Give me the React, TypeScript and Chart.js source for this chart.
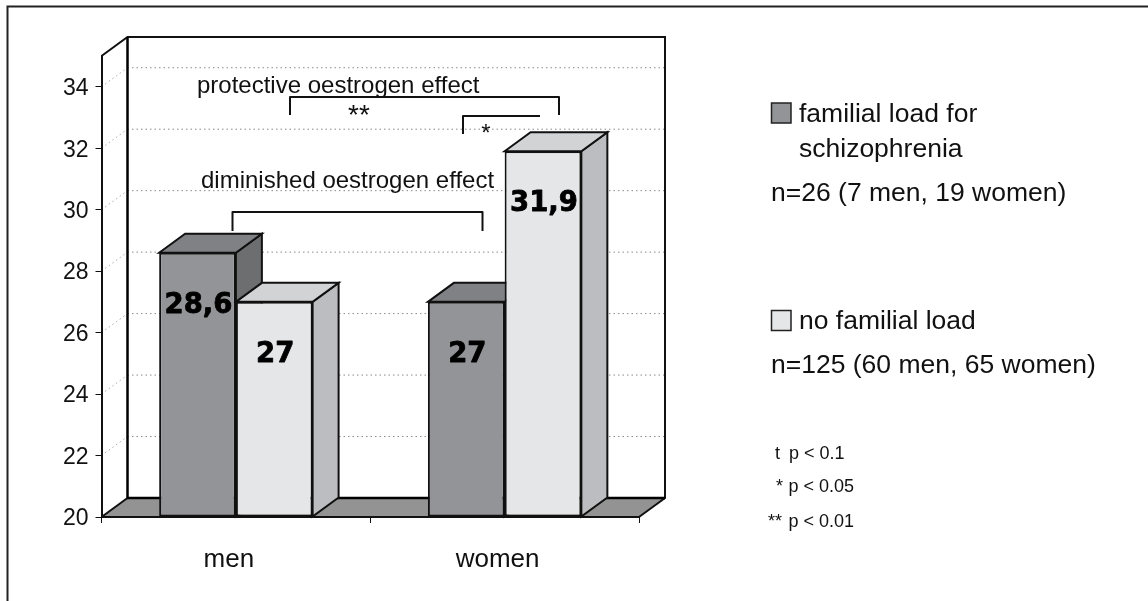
import React, { useEffect, useRef } from "react";
import { Chart, registerables } from "chart.js";

Chart.register(...registerables);

const categories = ["men", "women"];
const familialLoad = [28.6, 27];
const noFamilialLoad = [27, 31.9];
const seriesLabels = ["familial load for schizophrenia", "no familial load"];
const yMin = 20;
const yMax = 35;
const yStep = 2;

const FONT = '"Liberation Sans", Arial, sans-serif';
const DX = 26;
const DY = -19;
const DARK = { front: "#939497", side: "#6d6e70", top: "#808184" };
const LIGHT = { front: "#e5e6e8", side: "#bbbdc0", top: "#d1d3d4" };
const faces = [DARK, LIGHT];

const poly = (ctx: CanvasRenderingContext2D, pts: number[][], fill: string | null, stroke: string | null, lw = 2) => {
  ctx.beginPath();
  pts.forEach((p, i) => (i ? ctx.lineTo(p[0], p[1]) : ctx.moveTo(p[0], p[1])));
  ctx.closePath();
  if (fill) {
    ctx.fillStyle = fill;
    ctx.fill();
  }
  if (stroke) {
    ctx.strokeStyle = stroke;
    ctx.lineWidth = lw;
    ctx.lineJoin = "miter";
    ctx.stroke();
  }
};

const line = (ctx: CanvasRenderingContext2D, pts: number[][], lw = 2, color = "#111") => {
  ctx.beginPath();
  pts.forEach((p, i) => (i ? ctx.lineTo(p[0], p[1]) : ctx.moveTo(p[0], p[1])));
  ctx.strokeStyle = color;
  ctx.lineWidth = lw;
  ctx.stroke();
};

const text = (
  ctx: CanvasRenderingContext2D,
  s: string,
  x: number,
  y: number,
  size: number,
  align: CanvasTextAlign = "left"
) => {
  ctx.font = `${size}px ${FONT}`;
  ctx.fillStyle = "#111";
  ctx.textAlign = align;
  ctx.textBaseline = "alphabetic";
  ctx.fillText(s, x, y);
};

const wallsPlugin = {
  id: "walls",
  beforeDraw(chart: any) {
    const { ctx, chartArea: a, scales } = chart;
    ctx.save();
    // outer frame
    line(ctx, [[7.5, 601], [7.5, 6.5], [1148, 6.5]], 2, "#222");
    // floor
    poly(ctx, [[a.left, a.bottom], [a.left + DX, a.bottom + DY], [a.right + DX, a.bottom + DY], [a.right, a.bottom]], "#939393", null);
    // dotted gridlines
    ctx.setLineDash([1.5, 3]);
    scales.y.ticks.forEach((t: any) => {
      if (t.value === yMin) return;
      const y = scales.y.getPixelForValue(t.value);
      line(ctx, [[a.left + DX, y + DY], [a.right + DX, y + DY]], 1, "#8a8a8a");
      line(ctx, [[a.left, y], [a.left + DX, y + DY]], 1, "#aaaaaa");
    });
    ctx.setLineDash([]);
    // back wall + side wall outline
    line(ctx, [[a.left, a.top], [a.left + DX, a.top + DY], [a.right + DX, a.top + DY], [a.right + DX, a.bottom + DY], [a.right, a.bottom]], 2);
    line(ctx, [[a.left + DX, a.top + DY], [a.left + DX, a.bottom + DY], [a.right + DX, a.bottom + DY]], 2.5, "#000");
    line(ctx, [[a.left, a.bottom], [a.left + DX, a.bottom + DY]], 2);
    ctx.restore();
  },
  beforeDatasetsDraw(chart: any) {
    const { ctx } = chart;
    ctx.save();
    chart.data.datasets.forEach((_: any, di: number) => {
      chart.getDatasetMeta(di).data.forEach((el: any) => {
        const l = el.x - el.width / 2;
        const r = el.x + el.width / 2;
        const t = el.y;
        const b = el.base;
        poly(ctx, [[r, t], [r + DX, t + DY], [r + DX, b + DY], [r, b]], faces[di].side, "#111");
        poly(ctx, [[l, t], [l + DX, t + DY], [r + DX, t + DY], [r, t]], faces[di].top, "#111");
      });
    });
    ctx.restore();
  },
  afterDatasetsDraw(chart: any) {
    const { ctx } = chart;
    ctx.save();
    // value labels on bars
    chart.data.datasets.forEach((ds: any, di: number) => {
      chart.getDatasetMeta(di).data.forEach((el: any, i: number) => {
        const label = String(ds.data[i]).replace(".", ",");
        ctx.font = `bold 27.5px "DejaVu Sans", ${FONT}`;
        ctx.fillStyle = "#000";
        ctx.strokeStyle = "#000";
        ctx.lineWidth = 0.8;
        ctx.lineJoin = "round";
        ctx.textAlign = "center";
        ctx.textBaseline = "middle";
        ctx.fillText(label, el.x + 1, el.y + 53);
        ctx.strokeText(label, el.x + 1, el.y + 53);
      });
    });
    // significance brackets
    line(ctx, [[290, 115], [290, 97], [559, 97], [559, 115]], 2);
    line(ctx, [[463, 134], [463, 116], [540, 116]], 2);
    line(ctx, [[232.5, 231], [232.5, 212], [482.5, 212], [482.5, 231]], 2);
    text(ctx, "protective oestrogen effect", 197, 93, 24);
    text(ctx, "**", 359, 123.5, 28, "center");
    text(ctx, "*", 486, 141, 24, "center");
    text(ctx, "diminished oestrogen effect", 201, 188, 24);
    // legend block
    const box = (y: number, fill: string) => poly(ctx, [[771.5, y], [791, y], [791, y + 20], [771.5, y + 20]], fill, "#222", 1.5);
    box(103, DARK.front);
    box(310.5, LIGHT.front);
    text(ctx, "familial load for", 799, 122, 26.5);
    text(ctx, "schizophrenia", 799, 157, 26.5);
    text(ctx, "n=26 (7 men, 19 women)", 771, 201, 26.5);
    text(ctx, seriesLabels[1], 799, 329, 26.5);
    text(ctx, "n=125 (60 men, 65 women)", 771, 373, 26.5);
    // significance key
    text(ctx, "t", 775, 459, 18);
    text(ctx, "p < 0.1", 789, 459, 18);
    text(ctx, "*", 776, 492, 18);
    text(ctx, "p < 0.05", 788.5, 492, 18);
    text(ctx, "**", 768, 527, 18);
    text(ctx, "p < 0.01", 788.5, 527, 18);
    ctx.restore();
  },
};

export default function App() {
  const ref = useRef<HTMLCanvasElement>(null);
  useEffect(() => {
    const chart = new Chart(ref.current!, {
      type: "bar",
      plugins: [wallsPlugin],
      data: {
        labels: categories,
        datasets: [
          {
            label: seriesLabels[0],
            data: familialLoad,
            base: yMin,
            backgroundColor: DARK.front,
            borderColor: "#111",
            borderWidth: 2,
            borderSkipped: false,
            categoryPercentage: 0.571,
            barPercentage: 1,
          },
          {
            label: seriesLabels[1],
            data: noFamilialLoad,
            base: yMin,
            backgroundColor: LIGHT.front,
            borderColor: "#111",
            borderWidth: 2,
            borderSkipped: false,
            categoryPercentage: 0.571,
            barPercentage: 1,
          },
        ],
      },
      options: {
        responsive: false,
        animation: false,
        layout: { padding: { left: 0, right: 509, top: 56, bottom: 0 } },
        plugins: { legend: { display: false }, tooltip: { enabled: false }, title: { display: false } },
        scales: {
          x: {
            afterFit: (s: any) => {
              s.height = 84;
            },
            grid: { drawOnChartArea: false, drawTicks: true, tickLength: 6, color: "#111" },
            border: { color: "#111", width: 2 },
            ticks: {
              color: "#111",
              font: { family: FONT, size: 26 },
              maxRotation: 0,
              autoSkip: false,
              padding: 21,
              labelOffset: -7,
            },
          },
          y: {
            min: yMin,
            max: yMax,
            afterFit: (s: any) => {
              s.width = 101.5;
            },
            grid: { drawOnChartArea: false, drawTicks: true, tickLength: 6, color: "#111" },
            border: { color: "#111", width: 2 },
            ticks: {
              stepSize: yStep,
              includeBounds: false,
              color: "#111",
              font: { family: FONT, size: 23 },
              padding: 7,
              labelOffset: 2,
            },
          },
        },
      },
    } as any);
    return () => chart.destroy();
  }, []);
  return (
    <canvas
      ref={ref}
      width={1148}
      height={601}
      style={{ position: "fixed", left: 0, top: 0, display: "block", background: "#fff" }}
    />
  );
}
